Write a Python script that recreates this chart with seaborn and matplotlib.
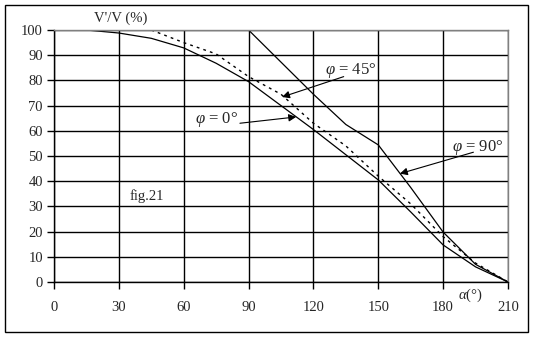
import matplotlib
matplotlib.use("Agg")
import matplotlib.pyplot as plt
from matplotlib.patches import Rectangle
import numpy as np
import pandas as pd
import seaborn as sns

# Angle of attack (degrees) and relative speed V'/V (%) for each phi
alpha_phi0 = [15, 30, 45, 60, 75, 90, 105, 120, 135, 150, 165, 180, 195, 210]
v_phi0 = [100, 98.8, 96.7, 92.9, 86.8, 79.5, 70, 60.5, 50.5, 40.5, 27.8, 14.7, 6, 0]

alpha_phi45 = [45, 60, 75, 90, 105, 120, 135, 150, 165, 180, 195, 210]
v_phi45 = [100, 95, 90.5, 81.5, 74.5, 63, 54, 42, 31, 18, 7.5, 0]

alpha_phi90 = [90, 120, 135, 150, 165, 180, 195, 210]
v_phi90 = [100, 74.5, 62.5, 54.4, 37.5, 19.8, 7, 0]

x_ticks = [0, 30, 60, 90, 120, 150, 180, 210]
y_ticks = [0, 10, 20, 30, 40, 50, 60, 70, 80, 90, 100]

sns.set_style("white")
plt.rcParams["font.family"] = ["Liberation Serif", "DejaVu Serif"]
plt.rcParams["mathtext.fontset"] = "custom"
plt.rcParams["mathtext.rm"] = "Liberation Serif"
plt.rcParams["mathtext.it"] = "Liberation Serif:italic"
plt.rcParams["mathtext.bf"] = "Liberation Serif:bold"

W, H = 539, 338
fig = plt.figure(figsize=(W / 100, H / 100), dpi=100)
ax = fig.add_axes([54 / W, 1 - 282 / H, (508 - 54) / W, (282 - 30) / H])

df0 = pd.DataFrame({"alpha": alpha_phi0, "v": v_phi0})
df45 = pd.DataFrame({"alpha": alpha_phi45, "v": v_phi45})
df90 = pd.DataFrame({"alpha": alpha_phi90, "v": v_phi90})

sns.lineplot(data=df0, x="alpha", y="v", ax=ax, color="black", lw=0.9)
sns.lineplot(data=df45, x="alpha", y="v", ax=ax, color="black", lw=1.0,
             linestyle=(0, (2, 3)))
sns.lineplot(data=df90, x="alpha", y="v", ax=ax, color="black", lw=0.9)

ax.set_xlim(0, 210)
ax.set_ylim(0, 100)
ax.set_xticks(x_ticks)
ax.set_yticks(y_ticks)
ax.set_xlabel("")
ax.set_ylabel("")
ax.grid(True, color="black", lw=1.0)
ax.set_axisbelow(True)

for side in ("top", "right"):
    ax.spines[side].set_color("#808080")
    ax.spines[side].set_linewidth(1.0)
for side in ("left", "bottom"):
    ax.spines[side].set_color("black")
    ax.spines[side].set_linewidth(1.0)

ax.tick_params(axis="both", which="major", direction="out", length=5,
               width=1.0, color="black", labelsize=10.5, pad=3,
               left=True, bottom=True)
ax.tick_params(axis="x", pad=9)

arrow = dict(arrowstyle="-|>", color="black", lw=0.8, mutation_scale=11,
             shrinkA=0, shrinkB=0)

ax.annotate("", xy=(105.5, 73.4), xytext=(134, 81.5), arrowprops=arrow)
ax.text(125.5, 84, r"$\varphi$ = 45°", fontsize=12, va="center", ha="left")

ax.annotate("", xy=(112, 65.5), xytext=(86, 63), arrowprops=arrow)
ax.text(65, 64.5, r"$\varphi$ = 0°", fontsize=12, va="center", ha="left")

ax.annotate("", xy=(160, 43), xytext=(194, 51.5), arrowprops=arrow)
ax.text(184, 53.5, r"$\varphi$ = 90°", fontsize=12, va="center", ha="left")

ax.text(35, 34, "fig.21", fontsize=10.5, va="center", ha="left")

fig.text(121 / W, 1 - 18 / H, "V'/V (%)", fontsize=10.5, ha="center", va="center")
fig.text(470 / W, 1 - 295 / H, r"$\alpha$(°)", fontsize=10.5, ha="center", va="center")

# Outer frame around the whole chart
fig.patches.append(Rectangle((5 / W, 1 - 332 / H), (528 - 5) / W, (332 - 5) / H,
                             transform=fig.transFigure, fill=False,
                             edgecolor="black", lw=1.0))

fig.savefig("out.png", dpi=100)
